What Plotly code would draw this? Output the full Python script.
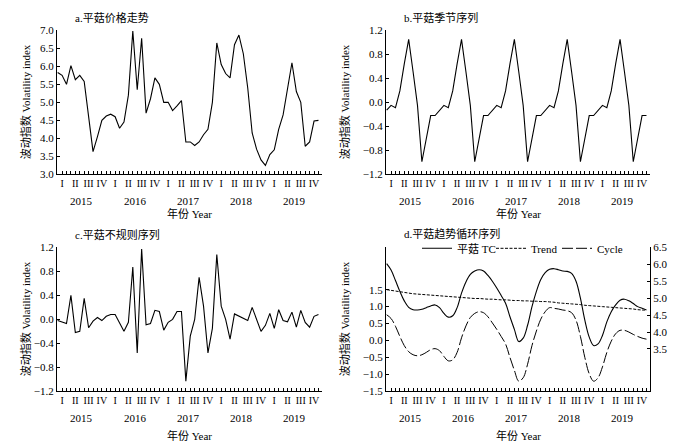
import plotly.graph_objects as go

# ---------------- data ----------------
years = ["2015", "2016", "2017", "2018", "2019"]
quarters = ["I", "II", "III", "IV"]
months = list(range(60))

price = [5.83, 5.75, 5.50, 6.02, 5.63, 5.75, 5.58, 4.60, 3.63, 4.05,
         4.50, 4.62, 4.67, 4.60, 4.28, 4.45, 5.20, 6.98, 5.35, 6.78,
         4.70, 5.10, 5.68, 5.50, 5.00, 5.00, 4.77, 4.90, 5.05, 3.90,
         3.90, 3.80, 3.90, 4.10, 4.25, 5.00, 6.65, 6.05, 5.80, 5.68,
         6.60, 6.87, 6.35, 5.40, 4.15, 3.70, 3.40, 3.25, 3.55, 3.68,
         4.25, 4.65, 5.35, 6.10, 5.30, 5.00, 3.78, 3.90, 4.48, 4.50]

seasonal = [-0.13, -0.05, -0.09, 0.19, 0.64, 1.05, 0.51, -0.05, -0.99, -0.60, -0.22, -0.22,
            -0.13, -0.05, -0.09, 0.19, 0.64, 1.05, 0.51, -0.05, -0.99, -0.60, -0.22, -0.22,
            -0.13, -0.05, -0.09, 0.19, 0.64, 1.05, 0.51, -0.05, -0.99, -0.60, -0.22, -0.22,
            -0.13, -0.05, -0.09, 0.19, 0.64, 1.05, 0.51, -0.05, -0.99, -0.60, -0.22, -0.22,
            -0.13, -0.05, -0.09, 0.19, 0.64, 1.05, 0.51, -0.05, -0.99, -0.60, -0.22, -0.22]

irregular = [-0.02, -0.05, -0.07, 0.40, -0.22, -0.20, 0.35, -0.14, -0.03, 0.03,
             -0.02, 0.05, 0.08, 0.08, -0.06, -0.20, -0.05, 0.87, -0.56, 1.17,
             -0.09, -0.07, 0.15, 0.13, -0.18, -0.05, 0.00, 0.13, 0.13, -1.03,
             -0.28, 0.00, 0.70, 0.22, -0.56, -0.15, 1.08, 0.22, 0.00, -0.33,
             0.09, 0.05, 0.02, -0.02, 0.20, 0.00, -0.20, -0.10, 0.10, -0.15,
             0.16, -0.02, -0.04, 0.12, -0.13, 0.15, -0.05, -0.13, 0.05, 0.08]

tc = [6.02, 5.83, 5.52, 5.20, 4.92, 4.73, 4.66, 4.65, 4.67, 4.72,
      4.77, 4.80, 4.72, 4.55, 4.44, 4.48, 4.72, 5.15, 5.48, 5.70,
      5.80, 5.84, 5.80, 5.67, 5.50, 5.30, 5.08, 4.85, 4.45, 4.08,
      3.72, 3.82, 4.20, 4.75, 5.20, 5.55, 5.75, 5.85, 5.87, 5.84,
      5.80, 5.79, 5.73, 5.50, 5.00, 4.35, 3.85, 3.60, 3.65, 3.90,
      4.30, 4.60, 4.80, 4.94, 4.97, 4.92, 4.84, 4.75, 4.70, 4.65]

trend = [5.25, 5.23, 5.21, 5.19, 5.17, 5.15, 5.13, 5.12, 5.11, 5.10,
         5.09, 5.08, 5.07, 5.06, 5.05, 5.04, 5.03, 5.02, 5.01, 5.00,
         4.99, 4.99, 4.98, 4.97, 4.97, 4.96, 4.95, 4.95, 4.94, 4.93,
         4.93, 4.92, 4.92, 4.91, 4.91, 4.90, 4.90, 4.89, 4.88, 4.86,
         4.85, 4.84, 4.83, 4.82, 4.81, 4.79, 4.78, 4.77, 4.76, 4.75,
         4.74, 4.73, 4.72, 4.71, 4.70, 4.69, 4.68, 4.66, 4.65, 4.64]

cycle = [0.76, 0.65, 0.42, 0.12, -0.15, -0.33, -0.42, -0.45, -0.42, -0.35,
         -0.27, -0.24, -0.30, -0.47, -0.60, -0.57, -0.35, 0.08, 0.43, 0.68,
         0.80, 0.85, 0.82, 0.70, 0.52, 0.33, 0.12, -0.10, -0.50, -0.88,
         -1.20, -1.10, -0.70, -0.15, 0.28, 0.63, 0.85, 0.97, 0.95, 0.93,
         0.90, 0.88, 0.82, 0.60, 0.12, -0.50, -0.98, -1.20, -1.10, -0.78,
         -0.35, -0.02, 0.20, 0.30, 0.30, 0.25, 0.18, 0.12, 0.07, 0.04]

titles = ["a.平菇价格走势", "b.平菇季节序列", "c.平菇不规则序列", "d.平菇趋势循环序列"]
ytitle = "波动指数 Volatility index"
xtitle = "年份 Year"
legend_names = ["平菇 TC", "Trend", "Cycle"]

# ---------------- layout helpers ----------------
W, H = 700, 446
FONT = "Liberation Serif, Noto Sans CJK SC, serif"


def px(x):
    return x / W


def py(y):
    return 1 - y / H


qtext = [quarters[(m % 12) // 3] if m % 3 == 1 else "" for m in months]

# plot areas in pixels (left, right, top, bottom)
boxes = {
    1: (57, 322, 25, 173),
    2: (386, 650, 25, 173),
    3: (57, 322, 248, 396),
    4: (386, 650, 248, 396),
}

fig = go.Figure()

line = dict(color="black", width=1.1)
fig.add_trace(go.Scatter(x=months, y=price, mode="lines", line=line,
                         xaxis="x", yaxis="y", showlegend=False))
fig.add_trace(go.Scatter(x=months, y=seasonal, mode="lines", line=line,
                         xaxis="x2", yaxis="y2", showlegend=False))
fig.add_trace(go.Scatter(x=months, y=irregular, mode="lines", line=line,
                         xaxis="x3", yaxis="y3", showlegend=False))
fig.add_trace(go.Scatter(x=months, y=tc, mode="lines", name=legend_names[0],
                         line=dict(color="black", width=1.1, shape="spline"),
                         xaxis="x4", yaxis="y5", legend="legend"))
fig.add_trace(go.Scatter(x=months, y=trend, mode="lines", name=legend_names[1],
                         line=dict(color="black", width=1.0, dash="3px,1.5px", shape="spline"),
                         xaxis="x4", yaxis="y5", legend="legend2"))
fig.add_trace(go.Scatter(x=months, y=cycle, mode="lines", name=legend_names[2],
                         line=dict(color="black", width=1.0, dash="11px,3px", shape="spline"),
                         xaxis="x4", yaxis="y4", legend="legend3"))

axis_common = dict(showline=True, linecolor="black", linewidth=1, ticks="inside",
                   ticklen=3, tickcolor="black", tickwidth=1, showgrid=False,
                   zeroline=False, tickfont=dict(size=11, color="black", family=FONT))

layout = dict(width=W, height=H, margin=dict(l=0, r=0, t=0, b=0),
              paper_bgcolor="white", plot_bgcolor="white",
              font=dict(family=FONT, size=11, color="black"))

for i in range(1, 5):
    l, r, t, b = boxes[i]
    sx = "" if i == 1 else str(i)
    layout["xaxis" + sx] = dict(axis_common, domain=[px(l), px(r)], anchor="y" + sx,
                                range=[-0.15, 59.8], tickmode="array", tickvals=months,
                                ticktext=qtext, tickangle=0,
                                tickfont=dict(size=10, color="black", family=FONT))

yranges = {1: [3, 7], 2: [-1.2, 1.2], 3: [-1.2, 1.2], 4: [-1.5, 2.75]}
yticks = {1: [3.0, 3.5, 4.0, 4.5, 5.0, 5.5, 6.0, 6.5, 7.0],
          2: [-1.2, -0.8, -0.4, 0.0, 0.4, 0.8, 1.2],
          3: [-1.2, -0.8, -0.4, 0.0, 0.4, 0.8, 1.2],
          4: [-1.5, -1.0, -0.5, 0.0, 0.5, 1.0, 1.5]}
for i in range(1, 5):
    l, r, t, b = boxes[i]
    sx = "" if i == 1 else str(i)
    layout["yaxis" + sx] = dict(axis_common, domain=[py(b), py(t)], anchor="x" + sx,
                                range=yranges[i], tickmode="array", tickvals=yticks[i],
                                tickformat=".1f")
layout["yaxis5"] = dict(axis_common, overlaying="y4", side="right", anchor="x4",
                        range=[2.25, 6.5], tickmode="array",
                        tickvals=[3.5, 4.0, 4.5, 5.0, 5.5, 6.0, 6.5], tickformat=".1f")

leg_common = dict(orientation="h", yanchor="middle", xanchor="left", y=py(249),
                  font=dict(size=11, family=FONT), bgcolor="rgba(0,0,0,0)",
                  itemwidth=30, borderwidth=0)
layout["legend"] = dict(leg_common, x=px(417))
layout["legend2"] = dict(leg_common, x=px(491))
layout["legend3"] = dict(leg_common, x=px(557))

ann = []
title_pos = {1: (73, 12), 2: (402, 12), 3: (73, 235), 4: (402, 234)}
for i in range(1, 5):
    x0, y0 = title_pos[i]
    ann.append(dict(text=titles[i - 1], x=px(x0), y=py(y0), xref="paper", yref="paper",
                    xanchor="left", yanchor="middle", showarrow=False,
                    font=dict(size=11, family=FONT)))
    l, r, t, b = boxes[i]
    sx = "" if i == 1 else str(i)
    yyear = b + 27
    for k, yr in enumerate(years):
        ann.append(dict(text=yr, x=12 * k + 5.5, y=py(yyear), xref="x" + sx, yref="paper",
                        xanchor="center", yanchor="middle", showarrow=False,
                        font=dict(size=11, family=FONT)))
    ann.append(dict(text=xtitle, x=px((l + r) / 2), y=py(b + 40 if i < 3 else b + 45),
                    xref="paper", yref="paper", xanchor="center", yanchor="middle",
                    showarrow=False, font=dict(size=11, family=FONT)))
    ytx = 25 if i in (1, 3) else 344
    ann.append(dict(text=ytitle, x=px(ytx), y=py((t + b) / 2), xref="paper", yref="paper",
                    xanchor="center", yanchor="middle", textangle=-90, showarrow=False,
                    font=dict(size=11, family=FONT)))
layout["annotations"] = ann

fig.update_layout(**layout)
fig.write_html("out.html", config={"displayModeBar": False},
               post_script="document.body.style.margin='0';"
                           "document.body.style.padding='0';"
                           "document.body.style.overflow='hidden';")
